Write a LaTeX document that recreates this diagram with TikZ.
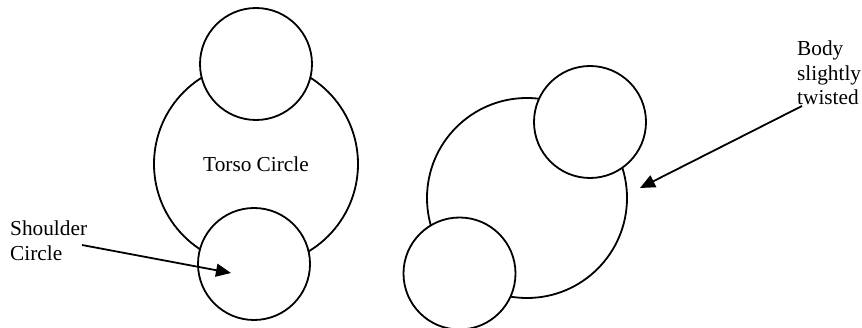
\documentclass[tikz,border=0pt]{standalone}
\usepackage{fontspec}
\setmainfont{Liberation Serif}
\usetikzlibrary{arrows.meta}
\begin{document}
\begin{tikzpicture}[x=1pt,y=-1pt,
  ring/.style={circle,draw,line width=1.8pt,fill=white,inner sep=0pt,minimum size=#1},
  lbl/.style={font=\fontsize{21.3}{24.5}\selectfont,inner sep=0pt,align=left},
  pointer/.style={line width=1.8pt,-{Triangle[length=15pt,width=13pt]}}]
\useasboundingbox (0,0) rectangle (862,328);
% left figure
\node[ring=204,lbl,align=center] (torsoA) at (256,164) {Torso Circle};
\node[ring=112] (topA) at (256,64) {};
\node[ring=112] (botA) at (254,264) {};
% right figure
\node[ring=200] (torsoB) at (527,198) {};
\node[ring=112] (topB) at (590,122) {};
\node[ring=112] (botB) at (459.5,273.5) {};
% labels (anchored at the baseline of the last line)
\node[lbl,anchor=base west] (shoulder) at (10,260.5) {Shoulder\\Circle};
\node[lbl,anchor=base west] (body) at (797,105) {Body\\slightly\\twisted};
% arrows
\coordinate (a1s) at (82,245);
\coordinate (a1e) at (231,273);
\coordinate (a2s) at (802,106);
\coordinate (a2e) at (640,188);
\draw[pointer] (a1s) -- (a1e);
\draw[pointer] (a2s) -- (a2e);
\end{tikzpicture}
\end{document}
